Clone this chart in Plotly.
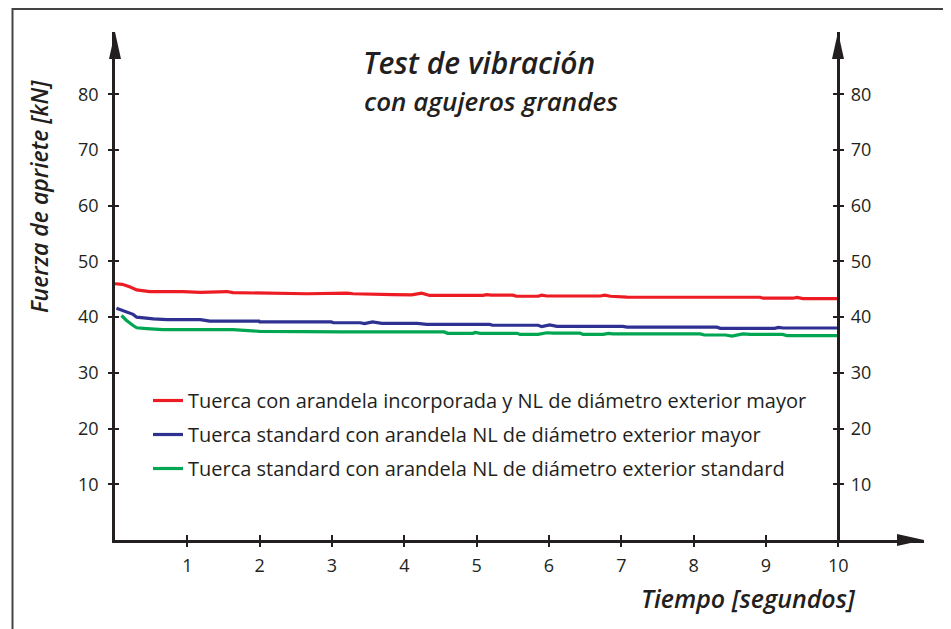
import plotly.graph_objects as go

# ---- data ----
tiempo_ticks = [1, 2, 3, 4, 5, 6, 7, 8, 9, 10]
fuerza_ticks = [10, 20, 30, 40, 50, 60, 70, 80]

red_name = "Tuerca con arandela incorporada y NL de diámetro exterior mayor"
red_x = [0.00, 0.10, 0.21, 0.30, 0.48, 0.94, 1.18, 1.55, 1.63, 2.56, 2.65, 3.21, 3.29,
         3.84, 4.10, 4.24, 4.35, 5.09, 5.14, 5.20, 5.50, 5.55, 5.85, 5.90, 5.97, 6.71,
         6.77, 6.85, 7.08, 8.92, 8.96, 9.37, 9.43, 9.51, 10.0]
red_y = [46.0, 45.9, 45.4, 44.9, 44.6, 44.6, 44.45, 44.6, 44.4, 44.3, 44.2, 44.3, 44.2,
         44.05, 44.0, 44.3, 43.9, 43.9, 44.05, 43.95, 43.95, 43.75, 43.75, 43.95, 43.8, 43.8,
         43.95, 43.75, 43.6, 43.57, 43.4, 43.4, 43.55, 43.33, 43.33]

blue_name = "Tuerca standard con arandela NL de diámetro exterior mayor"
blue_x = [0.02, 0.16, 0.25, 0.30, 0.44, 0.53, 0.72, 1.04, 1.08, 1.18, 1.31, 1.99, 2.00,
          2.99, 3.02, 3.39, 3.45, 3.56, 3.69, 4.18, 4.31, 5.18, 5.22, 5.85, 5.90, 6.01,
          6.11, 7.02, 7.08, 8.32, 8.37, 9.12, 9.17, 9.24, 10.0]
blue_y = [41.6, 40.9, 40.5, 40.0, 39.9, 39.7, 39.55, 39.55, 39.65, 39.55, 39.3, 39.3, 39.15,
          39.15, 39.0, 39.0, 38.85, 39.15, 38.9, 38.9, 38.7, 38.7, 38.55, 38.55, 38.3, 38.6,
          38.35, 38.35, 38.2, 38.2, 38.0, 38.0, 38.15, 38.05, 38.05]

green_name = "Tuerca standard con arandela NL de diámetro exterior standard"
green_x = [0.09, 0.16, 0.25, 0.30, 0.44, 0.66, 1.63, 1.83, 2.00, 3.13, 4.55, 4.60, 4.95,
           4.98, 5.05, 5.56, 5.60, 5.85, 5.97, 6.06, 6.43, 6.47, 6.75, 6.82, 6.88, 8.09,
           8.15, 8.44, 8.53, 8.68, 8.78, 9.23, 9.29, 10.0]
green_y = [40.3, 39.4, 38.5, 38.1, 37.95, 37.75, 37.75, 37.6, 37.45, 37.35, 37.35, 37.1, 37.1,
           37.25, 37.1, 37.1, 36.9, 36.9, 37.2, 37.15, 37.15, 36.9, 36.9, 37.1, 37.0, 37.0,
           36.8, 36.8, 36.6, 37.0, 36.9, 36.9, 36.7, 36.7]

# ---- geometry ----
# the page body has an 8px margin, so the figure sits 8px right/down of the window corner;
# positions below are given in window pixels and shifted by OFF.
W, H = 951, 629
OFF = 8
X0_PAGE, Y0_PAGE = 115, 540      # origin of the axes in the window
XTIP_PAGE, YTIP_PAGE = 924, 32   # arrow tips
L = X0_PAGE - OFF
T = YTIP_PAGE - OFF
B = H - (Y0_PAGE - OFF)
R = W - (XTIP_PAGE - OFF)
PW, PH = W - L - R, H - T - B
X_PER = 72.33          # px per second
Y_PER = 5.571          # px per kN
x_max = PW / X_PER
y_max = PH / Y_PER

INK = "#231f20"
TICK_FONT = dict(family="Open Sans, sans-serif", size=18, color=INK)


def px(xp):
    return (xp - X0_PAGE) / PW


def py(yp):
    return (Y0_PAGE - yp) / PH


fig = go.Figure()
for name, xs, ys, col in [(red_name, red_x, red_y, "#ed1c24"),
                          (blue_name, blue_x, blue_y, "#2e3192"),
                          (green_name, green_x, green_y, "#00a651")]:
    fig.add_trace(go.Scatter(x=xs, y=ys, mode="lines", name=name, legendgroup=name,
                             line=dict(color=col, width=3.2), hoverinfo="skip"))

right_pos = 10 / x_max
axis_common = dict(showgrid=False, zeroline=False, linecolor=INK, linewidth=2.5,
                   tickcolor=INK, tickwidth=1.8)
overlay_common = dict(showticklabels=False, showline=False, showgrid=False, zeroline=False,
                      tickcolor=INK, tickwidth=1.8)

fig.update_layout(
    width=W, height=H,
    margin=dict(l=L, r=R, t=T, b=B),
    paper_bgcolor="white", plot_bgcolor="white",
    xaxis=dict(range=[0, x_max], tickvals=tiempo_ticks, ticks="outside", ticklen=4,
               showline=True, tickfont=TICK_FONT, ticklabelstandoff=4, **axis_common),
    xaxis2=dict(range=[0, x_max], overlaying="x", anchor="y", tickvals=tiempo_ticks,
                ticks="inside", ticklen=5, **overlay_common),
    yaxis=dict(range=[0, y_max], tickvals=fuerza_ticks, ticks="outside", ticklen=4,
               showline=True, tickfont=TICK_FONT, ticklabelstandoff=6, **axis_common),
    yaxis2=dict(range=[0, y_max], overlaying="y", anchor="free", position=right_pos,
                side="right", tickvals=fuerza_ticks, ticks="outside", ticklen=4,
                showline=True, tickfont=TICK_FONT, ticklabelstandoff=3, **axis_common),
    yaxis3=dict(range=[0, y_max], overlaying="y", anchor="x", side="left",
                tickvals=fuerza_ticks, ticks="inside", ticklen=4, **overlay_common),
    yaxis4=dict(range=[0, y_max], overlaying="y", anchor="free", position=right_pos,
                side="right", tickvals=fuerza_ticks, ticks="inside", ticklen=5, **overlay_common),
    legend=dict(x=px(148), y=py(381), xanchor="left", yanchor="top",
                bgcolor="rgba(0,0,0,0)", itemwidth=30, tracegroupgap=5,
                font=dict(family="Open Sans, sans-serif", size=20, color=INK, weight=500)),
    showlegend=True,
)

# empty traces so the overlay axes get drawn
fig.add_trace(go.Scatter(x=[None], y=[None], xaxis="x2", yaxis="y3", showlegend=False))
fig.add_trace(go.Scatter(x=[None], y=[None], xaxis="x", yaxis="y2", showlegend=False))
fig.add_trace(go.Scatter(x=[None], y=[None], xaxis="x", yaxis="y4", showlegend=False))


def tri(tip, b1, b2):
    return (f"M {px(tip[0])},{py(tip[1])} L {px(b1[0])},{py(b1[1])} "
            f"L {px(b2[0])},{py(b2[1])} Z")


shapes = [
    dict(type="path", xref="paper", yref="paper", path=tri((115, 32), (109, 59), (121, 59)),
         fillcolor=INK, line=dict(width=0)),
    dict(type="path", xref="paper", yref="paper", path=tri((838, 32), (832, 59), (844, 59)),
         fillcolor=INK, line=dict(width=0)),
    dict(type="path", xref="paper", yref="paper", path=tri((924, 540), (897, 534), (897, 546)),
         fillcolor=INK, line=dict(width=0)),
    dict(type="rect", xref="paper", yref="paper", x0=px(12.5), x1=px(947), y0=py(650), y1=py(9),
         line=dict(color="#444444", width=2), fillcolor="rgba(0,0,0,0)", layer="below"),
]
fig.update_layout(shapes=shapes)

TITLE1_FONT = dict(family="Open Sans, sans-serif", size=30, color=INK, weight=600, style="italic")
TITLE2_FONT = dict(family="Open Sans, sans-serif", size=26, color=INK, weight=600, style="italic")
XT_FONT = dict(family="Open Sans, sans-serif", size=25, color=INK, weight=600, style="italic")
YT_FONT = dict(family="Open Sans, sans-serif", size=23, color=INK, weight=600, style="italic")
common = dict(xref="paper", yref="paper", showarrow=False, xanchor="center", yanchor="middle")
fig.add_annotation(text="Test de vibración", x=px(479), y=py(62), font=TITLE1_FONT, **common)
fig.add_annotation(text="con agujeros grandes", x=px(491), y=py(101), font=TITLE2_FONT, **common)
fig.add_annotation(text="Tiempo [segundos]", x=px(748), y=py(598), font=XT_FONT, **common)
fig.add_annotation(text="Fuerza de apriete [kN]", x=px(39), y=py(197), textangle=-90,
                   font=YT_FONT, **common)

fig.write_html("out.html")
